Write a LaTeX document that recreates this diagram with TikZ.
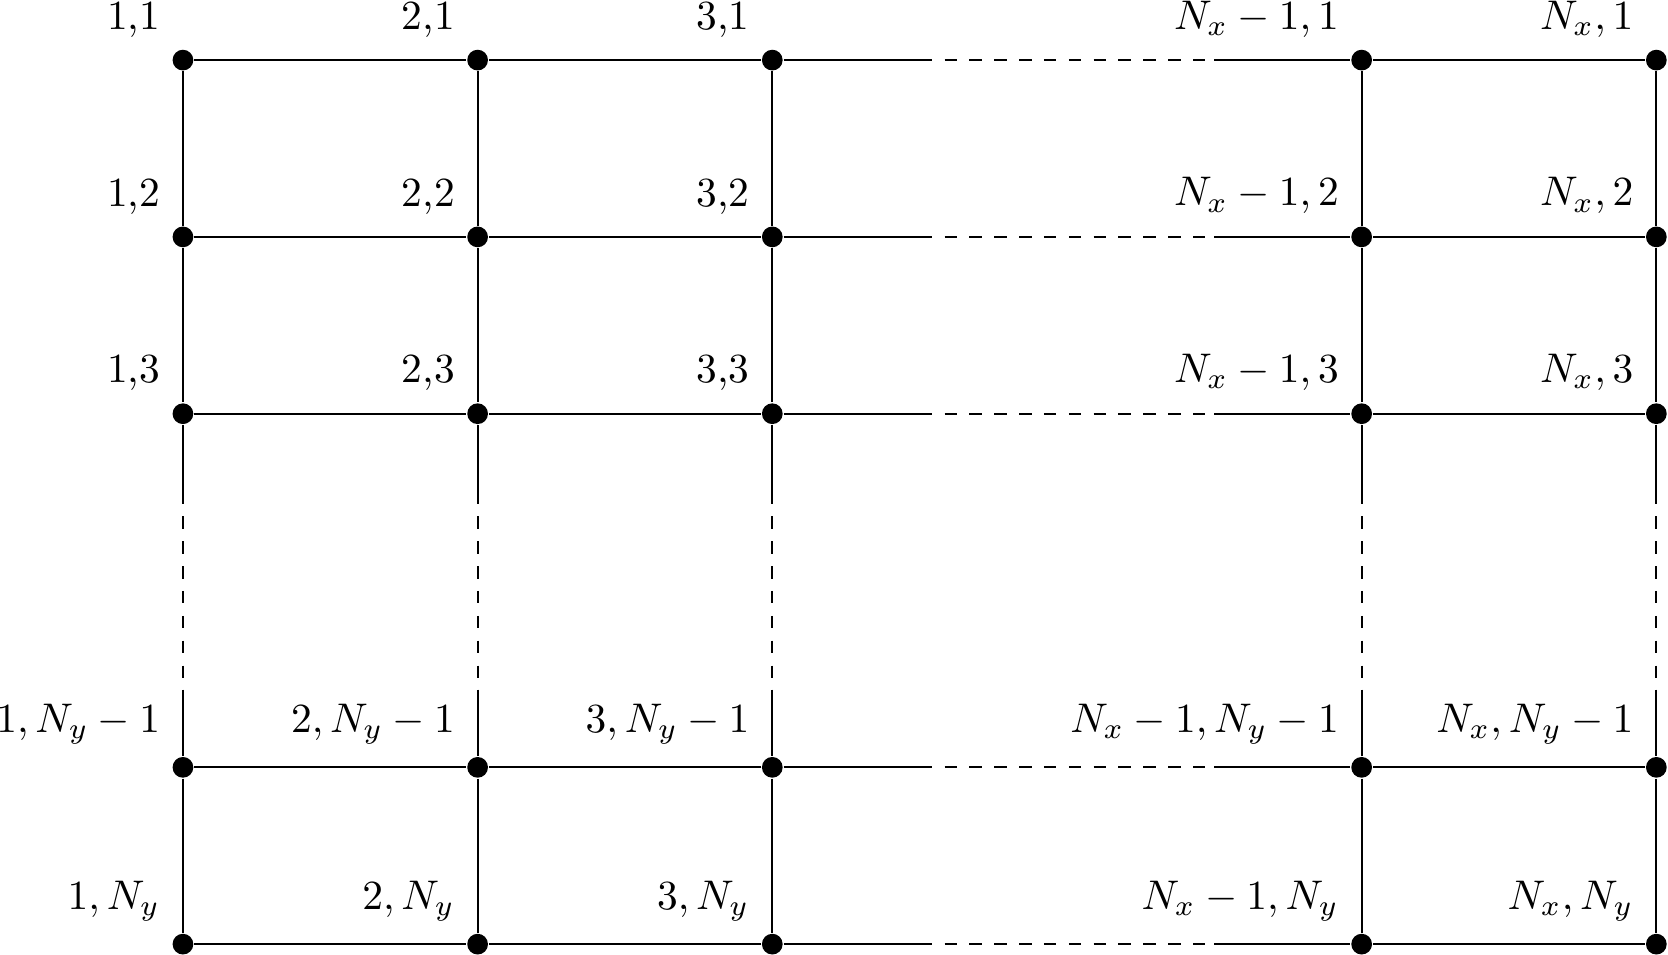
\documentclass[tikz,border=0pt]{standalone}
\tikzset{
  dot/.style={circle, fill=black, inner sep=0pt, minimum size=5pt},
  gapline/.style={dashed},
  every label/.style={inner sep=0.3333em},
  every path/.style={line width=0.5pt}
}
\begin{document}
\begin{tikzpicture}
\useasboundingbox (-1.552,-7.585) rectangle (12.599,0.510);
% row 1
\node[dot, label={above left:{1,1}}] (n11) at (0,0) {};
\node[dot, label={above left:{2,1}}] (n21) at (2.5,0) {};
\node[dot, label={above left:{3,1}}] (n31) at (5,0) {};
\node[dot, label={above left:{$N_x-1,1$}}] (n41) at (10,0) {};
\node[dot, label={above left:{$N_x,1$}}] (n51) at (12.5,0) {};
% row 2
\node[dot, label={above left:{1,2}}] (n12) at (0,-1.5) {};
\node[dot, label={above left:{2,2}}] (n22) at (2.5,-1.5) {};
\node[dot, label={above left:{3,2}}] (n32) at (5,-1.5) {};
\node[dot, label={above left:{$N_x-1,2$}}] (n42) at (10,-1.5) {};
\node[dot, label={above left:{$N_x,2$}}] (n52) at (12.5,-1.5) {};
% row 3
\node[dot, label={above left:{1,3}}] (n13) at (0,-3) {};
\node[dot, label={above left:{2,3}}] (n23) at (2.5,-3) {};
\node[dot, label={above left:{3,3}}] (n33) at (5,-3) {};
\node[dot, label={above left:{$N_x-1,3$}}] (n43) at (10,-3) {};
\node[dot, label={above left:{$N_x,3$}}] (n53) at (12.5,-3) {};
% row 4
\node[dot, label={above left:{$1,N_y-1$}}] (n14) at (0,-6) {};
\node[dot, label={above left:{$2,N_y-1$}}] (n24) at (2.5,-6) {};
\node[dot, label={above left:{$3,N_y-1$}}] (n34) at (5,-6) {};
\node[dot, label={above left:{$N_x-1,N_y-1$}}] (n44) at (10,-6) {};
\node[dot, label={above left:{$N_x,N_y-1$}}] (n54) at (12.5,-6) {};
% row 5
\node[dot, label={above left:{$1,N_y$}}] (n15) at (0,-7.5) {};
\node[dot, label={above left:{$2,N_y$}}] (n25) at (2.5,-7.5) {};
\node[dot, label={above left:{$3,N_y$}}] (n35) at (5,-7.5) {};
\node[dot, label={above left:{$N_x-1,N_y$}}] (n45) at (10,-7.5) {};
\node[dot, label={above left:{$N_x,N_y$}}] (n55) at (12.5,-7.5) {};
% gap coordinates
\foreach \y/\r in {0/1,-1.5/2,-3/3,-6/4,-7.5/5} {
  \coordinate (ha\r) at (6.25,\y);
  \coordinate (hb\r) at (8.75,\y);
}
\foreach \x/\c in {0/1,2.5/2,5/3,10/4,12.5/5} {
  \coordinate (va\c) at (\x,-3.66);
  \coordinate (vb\c) at (\x,-5.34);
}
% horizontal lines
\foreach \r in {1,...,5} {
  \draw (n1\r) -- (n2\r) -- (n3\r) -- (ha\r);
  \draw[gapline] (ha\r) -- (hb\r);
  \draw (hb\r) -- (n4\r) -- (n5\r);
}
% vertical lines
\foreach \c in {1,...,5} {
  \draw (n\c1) -- (n\c2) -- (n\c3) -- (va\c);
  \draw[gapline] (va\c) -- (vb\c);
  \draw (vb\c) -- (n\c4) -- (n\c5);
}
\end{tikzpicture}
\end{document}
